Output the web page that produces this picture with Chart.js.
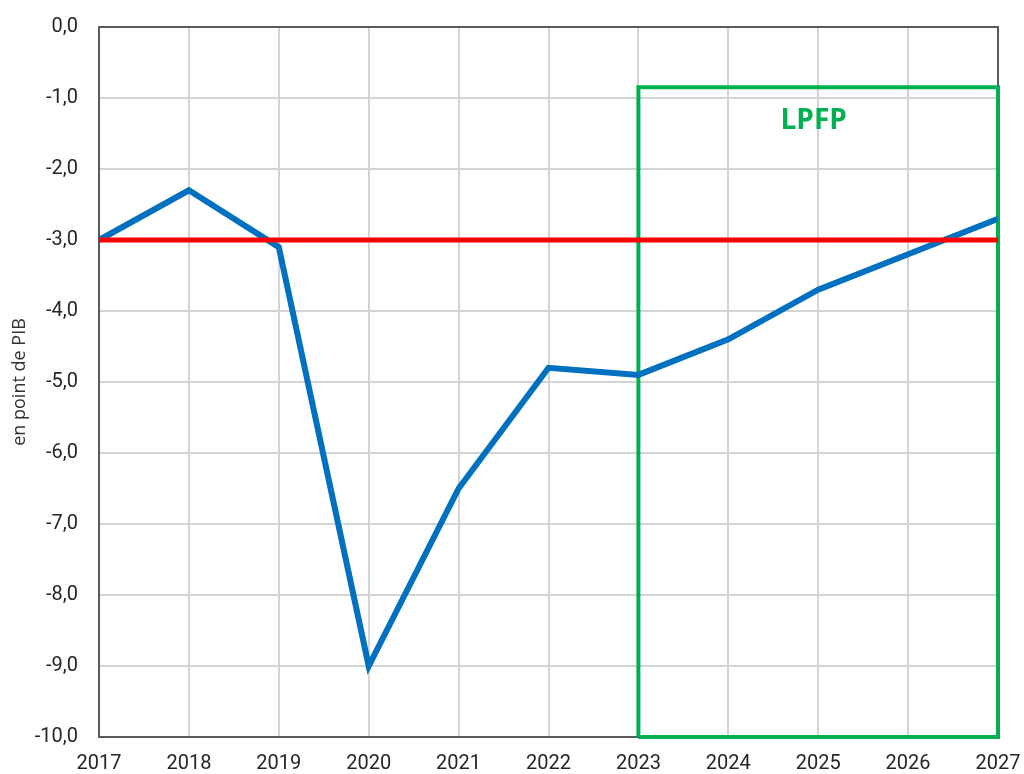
<!DOCTYPE html>
<html>
<head>
<meta charset="utf-8">
<script src="https://cdn.jsdelivr.net/npm/chart.js@4/dist/chart.umd.min.js"></script>
<style>
html,body{margin:0;padding:0;background:#fff;}
#wrap{width:1024px;height:774px;position:relative;}
</style>
</head>
<body>
<div id="wrap"><canvas id="c" width="1024" height="774"></canvas></div>
<script>
// Data
const years = [2017, 2018, 2019, 2020, 2021, 2022, 2023, 2024, 2025, 2026, 2027];
const deficit = [-3.0, -2.3, -3.1, -9.0, -6.5, -4.8, -4.9, -4.4, -3.7, -3.2, -2.7];
const threshold = -3.0;
const lpfpStart = 2023;
const lpfpEnd = 2027;
const lpfpTop = -0.85;
const lpfpLabel = 'LPFP';
const yTicks = [0, -1, -2, -3, -4, -5, -6, -7, -8, -9, -10];

const deficitPts = years.map((y, i) => ({x: y, y: deficit[i]}));
const thresholdPts = [{x: years[0], y: threshold}, {x: years[years.length - 1], y: threshold}];
const boxPts = [
  {x: lpfpStart, y: -10}, {x: lpfpStart, y: lpfpTop},
  {x: lpfpEnd, y: lpfpTop}, {x: lpfpEnd, y: -10}, {x: lpfpStart, y: -10}
];

const frame = {
  id: 'frame',
  beforeDatasetsDraw(chart) {
    const {ctx, chartArea: a} = chart;
    ctx.save();
    ctx.strokeStyle = '#5a5a5a';
    ctx.lineWidth = 2;
    ctx.strokeRect(a.left, a.top, a.right - a.left, a.bottom - a.top);
    ctx.restore();
  },
  afterDatasetsDraw(chart) {
    const {ctx, scales} = chart;
    ctx.save();
    ctx.fillStyle = '#00B050';
    ctx.font = 'bold 28px "Open Sans"';
    ctx.textAlign = 'center';
    ctx.textBaseline = 'middle';
    ctx.fillText(lpfpLabel, scales.x.getPixelForValue((lpfpStart + lpfpEnd) / 2 - 0.05), scales.y.getPixelForValue(lpfpTop - 0.47));
    ctx.restore();
  }
};

new Chart(document.getElementById('c'), {
  type: 'line',
  data: {
    datasets: [
      {data: boxPts, borderColor: '#00B050', borderWidth: 4, pointRadius: 0, fill: false, clip: false, tension: 0, order: 3},
      {data: thresholdPts, borderColor: '#FF0000', borderWidth: 5, pointRadius: 0, fill: false, order: 1},
      {data: deficitPts, borderColor: '#0070C0', borderWidth: 6, pointRadius: 0, fill: false, order: 2, borderJoinStyle: 'miter'}
    ]
  },
  options: {
    responsive: false,
    animation: false,
    layout: {padding: {left: 9, top: 27, right: 26, bottom: 0}},
    plugins: {legend: {display: false}, tooltip: {enabled: false}},
    scales: {
      x: {
        type: 'linear', min: years[0], max: years[years.length - 1],
        afterBuildTicks(s) { s.ticks = years.map(v => ({value: v})); },
        grid: {color: '#d3d3d3', lineWidth: 2, drawTicks: true, tickLength: 13, tickColor: 'rgba(0,0,0,0)'},
        border: {display: false},
        ticks: {padding: 2, color: '#262626', font: {family: 'Roboto', size: 20}, callback: v => String(v), maxRotation: 0, autoSkip: false},
        afterFit(s) { s.height = 37; }
      },
      y: {
        type: 'linear', min: -10, max: 0,
        afterBuildTicks(s) { s.ticks = yTicks.map(v => ({value: v})); },
        grid: {color: '#d3d3d3', lineWidth: 2, drawTicks: true, tickLength: 19, tickColor: 'rgba(0,0,0,0)'},
        border: {display: false},
        ticks: {padding: 2, color: '#262626', font: {family: 'Roboto', size: 20}, callback: v => v.toFixed(1).replace('.', ',')},
        title: {display: true, text: 'en point de PIB', color: '#333', font: {family: 'Open Sans', size: 18}, padding: {top: 0, bottom: 2}},
        afterFit(s) { s.width = 90; }
      }
    }
  },
  plugins: [frame]
});
</script>
</body>
</html>
